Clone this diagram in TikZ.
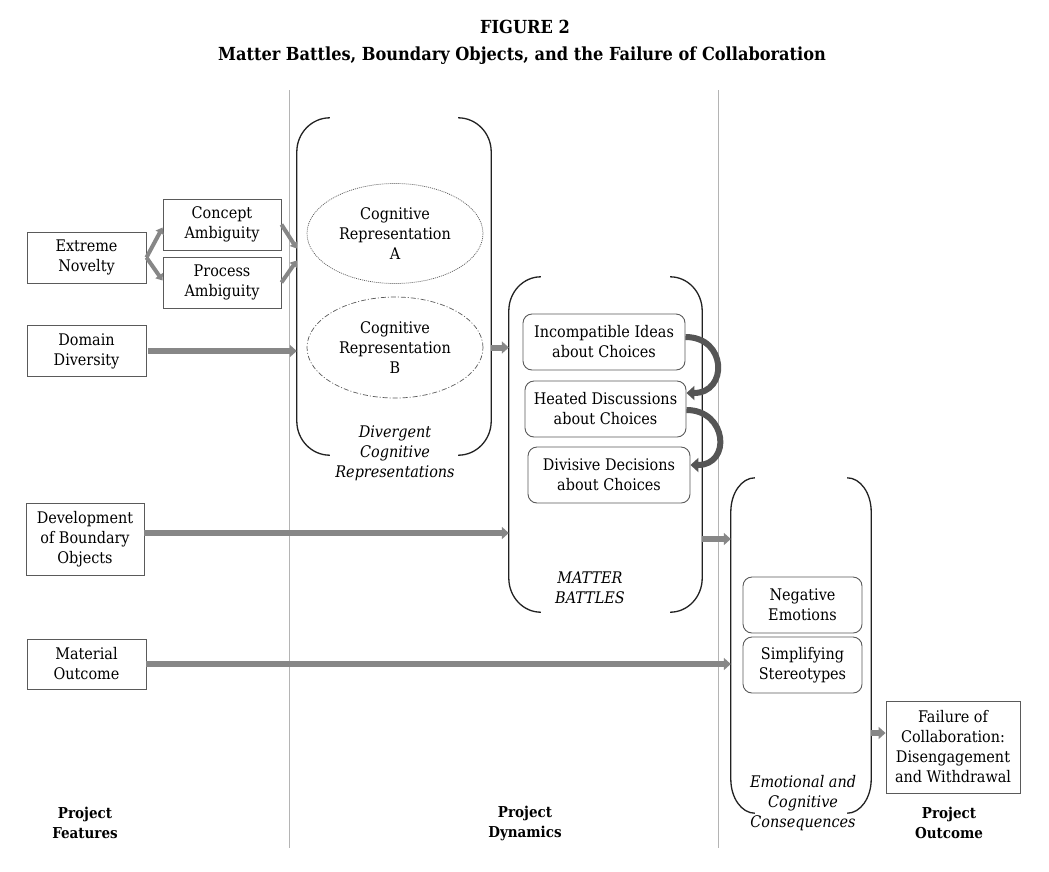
\documentclass[tikz,border=0pt]{standalone}
\usepackage{fontspec}
\setmainfont{DejaVu Serif Condensed}
\usetikzlibrary{calc,arrows.meta,shapes.geometric}
\definecolor{arrowgray}{HTML}{878787}
\definecolor{boxgray}{HTML}{5A5A5A}
\definecolor{linegray}{HTML}{B4B4B4}
\definecolor{curvegray}{HTML}{555555}
\definecolor{brkcol}{HTML}{222222}
\newcommand\drawbracket[3]{%
  \draw[brkline] ($(#1.north west)+(#2,0)$) .. controls ($(#1.north west)+(0.45*#2,0)$) and ($(#1.north west)+(0,0.45*#3)$) .. ($(#1.north west)+(0,#3)$)
    -- ($(#1.south west)+(0,-#3)$) .. controls ($(#1.south west)+(0,-0.45*#3)$) and ($(#1.south west)+(0.45*#2,0)$) .. ($(#1.south west)+(#2,0)$);
  \draw[brkline] ($(#1.north east)+(-#2,0)$) .. controls ($(#1.north east)+(-0.45*#2,0)$) and ($(#1.north east)+(0,0.45*#3)$) .. ($(#1.north east)+(0,#3)$)
    -- ($(#1.south east)+(0,-#3)$) .. controls ($(#1.south east)+(0,-0.45*#3)$) and ($(#1.south east)+(-0.45*#2,0)$) .. ($(#1.south east)+(-#2,0)$);
}
\begin{document}
\begin{tikzpicture}[x=1pt,y=-1pt,
  txt/.style={font=\fontsize{16}{20}\selectfont, align=center, inner sep=0pt},
  itxt/.style={font=\fontsize{16}{20}\selectfont\itshape, align=center, inner sep=0pt},
  btxt/.style={font=\fontsize{15}{20}\selectfont\bfseries, align=center, inner sep=0pt},
  sqbox/.style={txt, draw=boxgray, line width=0.9pt},
  rdbox/.style={txt, draw=boxgray, line width=0.9pt, rounded corners=9pt},
  brkframe/.style={inner sep=0pt, draw=none},
  brkline/.style={draw=brkcol, line width=1.3pt},
  vline/.style={draw=linegray, line width=1pt},
  fat/.style={draw=arrowgray, line width=6pt, -{Triangle[length=7pt,width=12pt]}},
  thinarr/.style={draw=arrowgray, line width=4pt, -{Triangle[length=6pt,width=9pt]}},
  curv/.style={draw=curvegray, line width=6pt, -{Triangle[length=8pt,width=14pt]}},
]
\fill[white] (0,0) rectangle (1049,871);
\useasboundingbox (0,0) rectangle (1049,871);

% title
\node[font=\fontsize{18}{22}\selectfont\bfseries, inner sep=0pt] (t1) at (525,27) {FIGURE 2};
\node[font=\fontsize{18}{22}\selectfont\bfseries, inner sep=0pt] (t2) at (522,56) {Matter Battles, Boundary Objects, and the Failure of Collaboration};

% column separators
\draw[vline] (289,90) -- (289,848);
\draw[vline] (718,90) -- (718,848);

% project features
\node[sqbox, minimum width=119pt, minimum height=51pt] (ext) at (86.5,257.5) {Extreme\\Novelty};
\node[sqbox, minimum width=118pt, minimum height=51pt] (con) at (222,224.5) {Concept\\Ambiguity};
\node[sqbox, minimum width=118pt, minimum height=51pt] (pro) at (222,282.5) {Process\\Ambiguity};
\node[sqbox, minimum width=119pt, minimum height=51pt] (dom) at (86.5,351) {Domain\\Diversity};
\node[sqbox, minimum width=118pt, minimum height=72pt] (dev) at (85,539) {Development\\of Boundary\\Objects};
\node[sqbox, minimum width=119pt, minimum height=50pt] (mat) at (86.5,664) {Material\\Outcome};

% divergent cognitive representations
\node[brkframe, minimum width=194pt, minimum height=337pt] (dcr) at (394,286.5) {};
\drawbracket{dcr}{33}{34}
\node[ellipse, txt, draw=boxgray, line width=0.7pt, dash pattern=on 1pt off 1pt, minimum width=176pt, minimum height=100pt] (ella) at (395,233.5) {Cognitive\\Representation\\A};
\node[ellipse, txt, draw=boxgray, line width=0.7pt, dash pattern=on 5pt off 2pt on 1pt off 2pt, minimum width=176pt, minimum height=101pt] (ellb) at (395,347.5) {Cognitive\\Representation\\B};
\node[itxt] (dcrl) at (395,453) {Divergent\\Cognitive\\Representations};

% matter battles
\node[brkframe, minimum width=193pt, minimum height=335pt] (mb) at (605.5,444.5) {};
\drawbracket{mb}{32}{34}
\node[rdbox, minimum width=162pt, minimum height=56pt] (inc) at (604,342) {Incompatible Ideas\\about Choices};
\node[rdbox, minimum width=161pt, minimum height=56pt] (hea) at (605.5,409) {Heated Discussions\\about Choices};
\node[rdbox, minimum width=162pt, minimum height=56pt] (div) at (609,475) {Divisive Decisions\\about Choices};
\node[itxt] (mbl) at (590,588) {MATTER\\BATTLES};

% emotional and cognitive consequences
\node[brkframe, minimum width=140pt, minimum height=335pt] (ecc) at (801,645.5) {};
\drawbracket{ecc}{24}{34}
\node[rdbox, minimum width=119pt, minimum height=56pt] (neg) at (802.5,605) {Negative\\Emotions};
\node[rdbox, minimum width=119pt, minimum height=56pt] (sim) at (802.5,665) {Simplifying\\Stereotypes};
\node[itxt] (eccl) at (803,803) {Emotional and\\Cognitive\\Consequences};

% outcome
\node[sqbox, minimum width=134pt, minimum height=92pt] (fail) at (953,747) {Failure of\\Collaboration:\\Disengagement\\and Withdrawal};

% column labels
\node[btxt] (lf) at (85,823) {Project\\Features};
\node[btxt] (ld) at (525,823) {Project\\Dynamics};
\node[btxt] (lo) at (949,823) {Project\\Outcome};

% connectors
\draw[thinarr] (ext.east) -- ([yshift=-3pt]con.west);
\draw[thinarr] (ext.east) -- ([yshift=2pt]pro.west);
\draw[thinarr] (con.east) -- ($(dcr.west)+(0,-38)$);
\draw[thinarr] (pro.east) -- ($(dcr.west)+(0,-26)$);
\draw[fat] ([xshift=2pt]dom.east) -- (dom.east -| dcr.west);
\draw[fat] (ellb.east -| dcr.east) -- (ellb.east -| mb.west);
\coordinate (devout) at ([yshift=6pt]dev.east);
\draw[fat] (devout) -- (devout -| mb.west);
\draw[fat] (mat.east) -- (mat.east -| ecc.west);
\draw[fat] (dev.east -| mb.east) -- (dev.east -| ecc.west);
\coordinate (failin) at ([yshift=14pt]fail.west);
\draw[fat] (failin -| ecc.east) -- (failin);
\draw[curv] ([yshift=5pt]inc.east) to[out=0,in=0,looseness=1.9] ([yshift=16pt]hea.east);
\draw[curv] ([yshift=-1pt]hea.east) to[out=0,in=0,looseness=1.9] ([yshift=10pt]div.east);
\end{tikzpicture}
\end{document}
